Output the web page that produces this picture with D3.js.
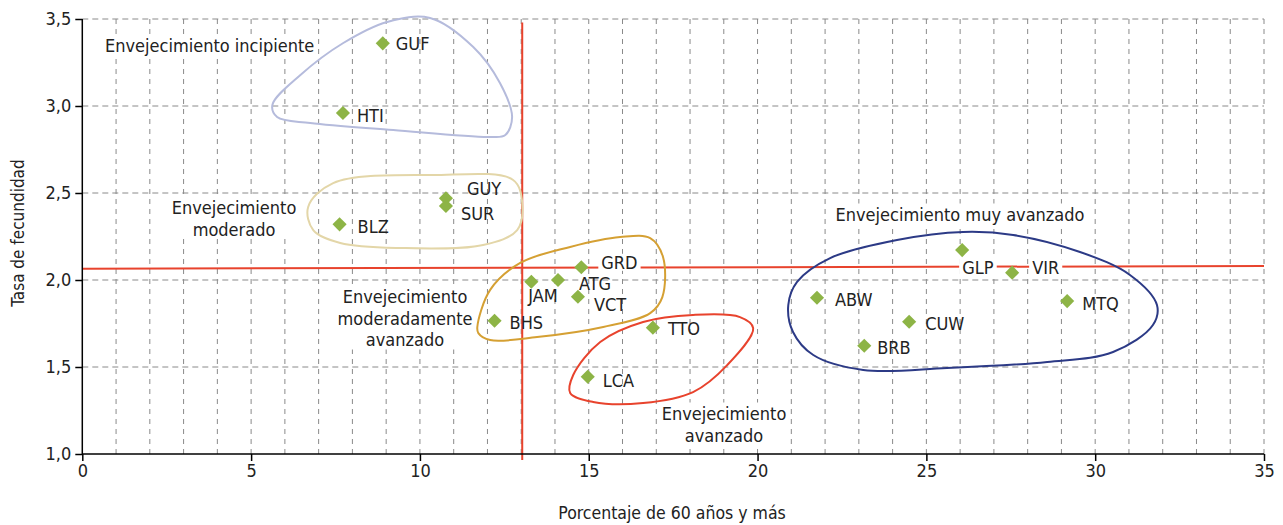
<!DOCTYPE html>
<html><head><meta charset="utf-8">
<script src="https://cdn.jsdelivr.net/npm/d3@7"></script>
<style>
body{margin:0;background:#fff}
text{font-family:"Liberation Sans Narrow","DejaVu Sans Condensed",sans-serif;fill:#222}
</style></head><body>
<svg id="c" width="1283" height="525"></svg>
<script>
// ---- data ----
const codes = ["GUF","HTI","GUY","SUR","BLZ","GRD","JAM","ATG","VCT","BHS","TTO","LCA","GLP","VIR","ABW","MTQ","CUW","BRB"];
const pctOver60 = [8.90,7.72,10.77,10.77,7.62,14.78,13.30,14.09,14.68,12.21,16.90,14.97,26.06,27.54,21.76,29.17,24.49,23.16];
const fertility = [3.36,2.96,2.47,2.425,2.32,2.073,1.99,2.0,1.904,1.766,1.726,1.444,2.172,2.042,1.898,1.879,1.76,1.622];
const xTicks = [0,5,10,15,20,25,30,35];
const yTicks = [1.0,1.5,2.0,2.5,3.0,3.5];
const thresholdX = 13.03;
const thresholdY = [2.065,2.08];
const groupNames = ["incipiente","moderado","modAvanzado","avanzado","muyAvanzado"];
const groupLabels = [["Envejecimiento incipiente"],["Envejecimiento","moderado"],["Envejecimiento","moderadamente","avanzado"],["Envejecimiento","avanzado"],["Envejecimiento muy avanzado"]];
const groupOutlines = [
 [[5.63,3.006],[6.46,3.178],[7.73,3.362],[9.03,3.483],[10.30,3.506],[11.58,3.339],[12.37,3.132],[12.73,2.937],[12.53,2.833],[12.08,2.822],[9.21,2.862],[6.75,2.902],[5.77,2.937]],
 [[6.69,2.42],[7.43,2.557],[10.39,2.603],[12.76,2.575],[13.03,2.443],[12.88,2.287],[11.87,2.201],[9.42,2.184],[7.64,2.213],[6.84,2.287]],
 [[11.70,1.73],[12.08,1.943],[12.97,2.098],[14.45,2.19],[15.93,2.247],[16.82,2.241],[17.20,2.132],[17.18,1.902],[16.82,1.81],[15.43,1.73],[13.47,1.672],[12.08,1.655],[11.73,1.695]],
 [[18.09,1.799],[19.48,1.787],[19.87,1.724],[19.10,1.511],[18.09,1.356],[16.61,1.293],[15.13,1.299],[14.45,1.351],[14.54,1.454],[15.34,1.644],[16.61,1.759]],
 [[20.91,1.856],[21.17,1.989],[22.15,2.126],[24.13,2.23],[26.09,2.276],[27.57,2.259],[29.55,2.161],[31.03,2.029],[31.83,1.856],[31.71,1.741],[30.53,1.586],[28.58,1.529],[25.61,1.494],[23.13,1.483],[21.65,1.569],[21.05,1.701]]
];

// ---- layout ----
const W=1283,H=525, m={l:82.3,t:19,r:19,b:71};
const svg=d3.select("#c");
const x=d3.scaleLinear().domain([0,35]).range([m.l,W-m.r]);
const y=d3.scaleLinear().domain([1,3.5]).range([H-m.b,m.t]);
const FS=18;
const groupStyle={
 incipiente:{color:"#b5bbdc",pos:[105,45],anchor:"start"},
 moderado:{color:"#e3d6a8",pos:[234,207],anchor:"middle"},
 modAvanzado:{color:"#d5a033",pos:[405,296],anchor:"middle"},
 avanzado:{color:"#e8432d",pos:[724,413],anchor:"middle"},
 muyAvanzado:{color:"#2c3a86",pos:[960,214],anchor:"middle"}
};
const labelOff={GUF:[13,0],HTI:[14,3],GUY:[21,-10],SUR:[15,7],BLZ:[18,2],GRD:[20,-5,1],JAM:[-3,14],ATG:[21,3],VCT:[16,8],BHS:[15,2],TTO:[15,1],LCA:[15,4],GLP:[0,17,1],VIR:[20,-5,1],ABW:[18,2],MTQ:[15,2],CUW:[16,2],BRB:[13,2]};

// grid
const g=svg.append("g");
g.selectAll(".vg").data(d3.range(1,36)).join("line")
 .attr("x1",d=>x(d)).attr("x2",d=>x(d)).attr("y1",y(1)).attr("y2",y(3.5))
 .attr("stroke","#8a8a8a").attr("stroke-dasharray","5,5").attr("stroke-width",1);
g.selectAll(".hg").data(yTicks.slice(1)).join("line")
 .attr("y1",d=>y(d)).attr("y2",d=>y(d)).attr("x1",x(0)).attr("x2",x(35))
 .attr("stroke","#8a8a8a").attr("stroke-dasharray","6,4").attr("stroke-width",1);

// group labels with white bg
const gl=svg.append("g");
groupNames.forEach((k,i)=>{
  const st=groupStyle[k];
  const t=gl.append("text").attr("x",st.pos[0]).attr("y",st.pos[1]).attr("text-anchor",st.anchor)
    .attr("font-size",FS).attr("dominant-baseline","central");
  groupLabels[i].forEach((s,j)=>t.append("tspan").attr("x",st.pos[0]).attr("y",st.pos[1]+j*21.5).text(s));
  const b=t.node().getBBox();
  gl.insert("rect","text").attr("x",b.x-3).attr("y",b.y).attr("width",b.width+6).attr("height",b.height).attr("fill","#fff");
});

// threshold lines
svg.append("line").attr("x1",x(0)).attr("x2",x(35)).attr("y1",y(thresholdY[0])).attr("y2",y(thresholdY[1]))
 .attr("stroke","#e8432d").attr("stroke-width",2);
svg.append("line").attr("x1",x(thresholdX)).attr("x2",x(thresholdX)).attr("y1",y(3.48)).attr("y2",y(0.965))
 .attr("stroke","#e8432d").attr("stroke-width",2);

// outlines
const line=d3.line().x(d=>x(d[0])).y(d=>y(d[1])).curve(d3.curveCatmullRomClosed.alpha(0.5));
svg.append("g").selectAll("path").data(groupOutlines).join("path")
 .attr("d",line).attr("fill","none").attr("stroke",(d,i)=>groupStyle[groupNames[i]].color).attr("stroke-width",2);

// points
const sym=d3.symbol().type(d3.symbolSquare).size(100);
svg.append("g").selectAll("path").data(codes).join("path")
 .attr("d",sym).attr("fill","#8db446")
 .attr("transform",(d,i)=>`translate(${x(pctOver60[i])},${y(fertility[i])}) rotate(45)`);

// point labels
const pl=svg.append("g");
codes.forEach((c,i)=>{
  const o=labelOff[c];
  const t=pl.append("text").attr("x",x(pctOver60[i])+o[0]).attr("y",y(fertility[i])+o[1])
    .attr("dominant-baseline","central").attr("font-size",FS).text(c);
  if(o[2]){const b=t.node().getBBox();
    pl.insert("rect","text").attr("x",b.x-3).attr("y",b.y+2).attr("width",b.width+6).attr("height",b.height-4).attr("fill","#fff");}
});

// axes
const xa=svg.append("g").attr("transform",`translate(0,${y(1)})`)
 .call(d3.axisBottom(x).tickValues(xTicks).tickSize(7).tickPadding(3).tickFormat(d3.format("d")));
const ya=svg.append("g").attr("transform",`translate(${x(0)},0)`)
 .call(d3.axisLeft(y).tickValues(yTicks).tickSize(7).tickPadding(4).tickFormat(d=>d3.format(".1f")(d).replace(".",",")));
[xa,ya].forEach(a=>{a.select(".domain").attr("stroke","#000").attr("stroke-width",1.5);
 a.selectAll(".tick line").attr("stroke","#000").attr("stroke-width",1.5);
 a.selectAll("text").attr("font-size",FS).attr("fill","#222").style("font-family",'"Liberation Sans Narrow","DejaVu Sans Condensed",sans-serif');});
ya.select(".domain").attr("d",`M0,${y(3.5)}V${y(1)}`);
xa.select(".domain").attr("d",`M${x(0)},0H${x(35)}`);

// titles
svg.append("text").attr("x",672).attr("y",513).attr("text-anchor","middle").attr("dominant-baseline","central")
 .attr("font-size",17.5).text("Porcentaje de 60 años y más");
svg.append("text").attr("transform",`translate(18,${y(2.27)}) rotate(-90)`).attr("text-anchor","middle").attr("dominant-baseline","central")
 .attr("font-size",17).text("Tasa de fecundidad");
</script></body></html>
